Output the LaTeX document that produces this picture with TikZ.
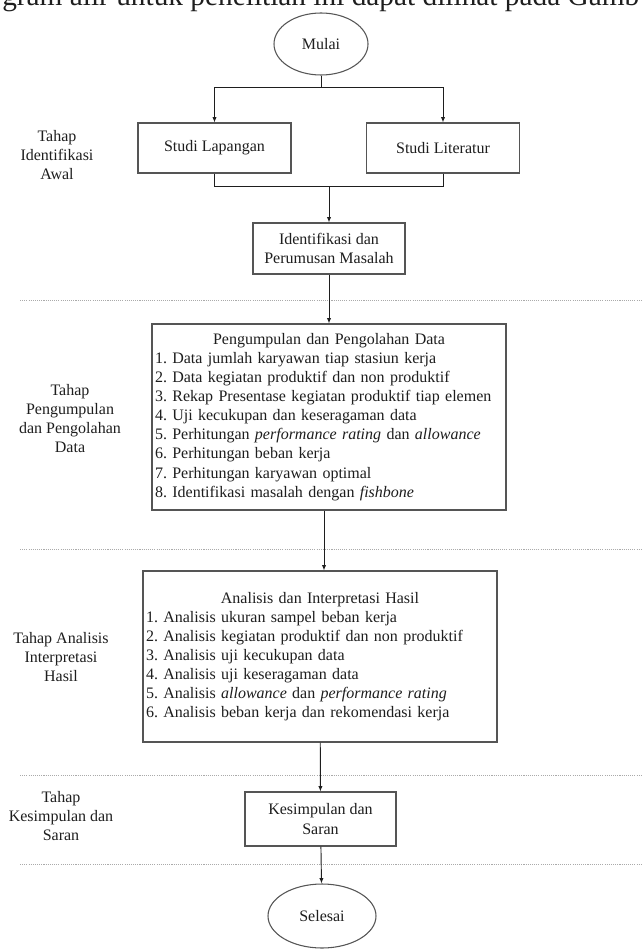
\documentclass[tikz,border=0pt]{standalone}
\usepackage{fontspec}
\setmainfont{Liberation Serif}
\usetikzlibrary{arrows.meta,positioning,calc,shapes.geometric}
\definecolor{Ink}{RGB}{30,30,30}
\definecolor{Frame}{RGB}{85,85,85}
\definecolor{Dots}{RGB}{170,170,170}
\tikzset{
  >=Latex,
  box/.style={draw=Frame,line width=.8pt,fill=white,align=center,text=Ink,font=\fontsize{12}{14.3}\selectfont\frenchspacing,inner sep=0pt},
  listbox/.style={box,align=left,inner xsep=2.25pt},
  terminal/.style={ellipse,draw=Frame,line width=.8pt,fill=white,text=Ink,font=\fontsize{12}{14.3}\selectfont,inner sep=0pt},
  stage/.style={font=\fontsize{12}{14.3}\selectfont,text=Ink,align=center,inner sep=0pt},
  flow/.style={-{Latex[length=4pt,width=3.2pt]},line width=.7pt,draw=Ink},
  link/.style={line width=.7pt,draw=Ink},
  divider/.style={draw=Dots,line width=.7pt,dash pattern=on .8pt off .8pt}
}

\begin{document}
\begin{tikzpicture}[x=.75pt,y=-.75pt]
  \useasboundingbox (0,0) rectangle (642,949);
  \node[stage,anchor=base west,font=\fontsize{22}{26}\selectfont] (intro) at (2,6) {gram alir untuk penelitian ini dapat dilihat pada Gamb};
  % separators between stages
  \foreach \y in {300,549,775,864}
    \draw[divider] (20,\y) -- (642,\y);
  \node[terminal,minimum width=70.5pt,minimum height=46.5pt] (mulai) at (321,44) {Mulai};
  \node[box,minimum width=114.75pt,minimum height=37.5pt] (lapangan) at (214.5,148) {Studi Lapangan};
  \node[box,minimum width=114.75pt,minimum height=37.5pt] (literatur) at (443,148) {Studi Literatur};
  \node[box,minimum width=114pt,minimum height=38.25pt] (rumusan) at (329,248.5) {Identifikasi dan\\Perumusan Masalah};
  \node[listbox,text width=261pt,minimum height=139.5pt] (olah) at (329,417) {\makebox[\hsize]{Pengumpulan dan Pengolahan Data}\\
    1. Data jumlah karyawan tiap stasiun kerja\\
    2. Data kegiatan produktif dan non produktif\\
    3. Rekap Presentase kegiatan produktif tiap elemen\\
    4. Uji kecukupan dan keseragaman data\\
    5. Perhitungan \textit{performance rating} dan \textit{allowance}\\
    6. Perhitungan beban kerja\\
    7. Perhitungan karyawan optimal\\
    8. Identifikasi masalah dengan \textit{fishbone}};
  \node[listbox,text width=261pt,minimum height=128.25pt] (hasil) at (320,656.5) {\makebox[\hsize]{Analisis dan Interpretasi Hasil}\\
    1. Analisis ukuran sampel beban kerja\\
    2. Analisis kegiatan produktif dan non produktif\\
    3. Analisis uji kecukupan data\\
    4. Analisis uji keseragaman data\\
    5. Analisis \textit{allowance} dan \textit{performance rating}\\
    6. Analisis beban kerja dan rekomendasi kerja};
  \node[box,minimum width=113.25pt,minimum height=40.5pt] (simpul) at (320.5,819) {Kesimpulan dan\\Saran};
  \node[terminal,minimum width=81pt,minimum height=48pt] (selesai) at (322,916) {Selesai};
  % stage labels
  \node[stage] (tahapAwal) at (57,155) {Tahap\\Identifikasi\\Awal};
  \node[stage] (tahapData) at (70,418.5) {Tahap\\Pengumpulan\\dan Pengolahan\\Data};
  \node[stage] (tahapHasil) at (61,657) {Tahap Analisis\\Interpretasi\\Hasil};
  \node[stage] (tahapSaran) at (61,816) {Tahap\\Kesimpulan dan\\Saran};
  % connectors
  \coordinate (split) at (321,87);
  \coordinate (merge) at (329,186);
  \coordinate (drop) at (324,0);
  \draw[link] (mulai) -- (split);
  \draw[flow] (split) -| (lapangan);
  \draw[flow] (split) -| (literatur);
  \draw[link] (lapangan) |- (merge);
  \draw[link] (literatur) |- (merge);
  \draw[flow] (merge) -- (rumusan);
  \draw[flow] (rumusan) -- (olah);
  \draw[flow] (olah.south -| drop) -- (hasil.north -| drop);
  \draw[flow] (hasil) -- (simpul);
  \draw[flow] (simpul) -- (selesai);
\end{tikzpicture}
\end{document}
